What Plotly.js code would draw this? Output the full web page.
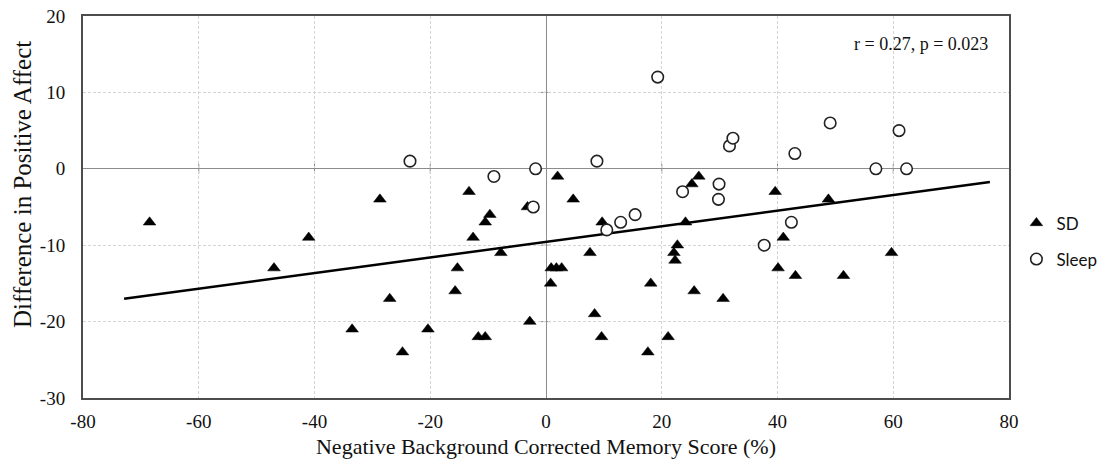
<!DOCTYPE html>
<html>
<head>
<meta charset="utf-8">
<script src="https://cdn.plot.ly/plotly-3.0.1.min.js"></script>
<style>
  html, body { margin: 0; padding: 0; background: #ffffff; }
  #chart { width: 1114px; height: 463px; }
</style>
</head>
<body>
<div id="chart"></div>
<script>
// Sleep-deprived group (SD)
const sdMemory = [-68.5, -47, -41, -33.5, -28.7, -27, -24.8, -20.4, -15.7, -15.3,
  -13.3, -12.6, -11.7, -10.5, -10.5, -9.7, -7.8, -3.2, -2.8, 0.8,
  0.9, 1.8, 2.7, 2, 4.7, 7.6, 8.4, 9.6, 9.7, 17.6,
  18.1, 21.1, 22.1, 22.3, 22.7, 24.1, 25.2, 25.6, 26.4, 30.6,
  39.6, 40.1, 41, 43.1, 48.8, 51.4, 59.7];
const sdAffect = [-7, -13, -9, -21, -4, -17, -24, -21, -16, -13,
  -3, -9, -22, -22, -7, -6, -11, -5, -20, -15,
  -13, -13, -13, -1, -4, -11, -19, -22, -7, -24,
  -15, -22, -11, -12, -10, -7, -2, -16, -1, -17,
  -3, -13, -9, -14, -4, -14, -11];

// Sleep group
const sleepMemory = [-23.5, -9, -2.2, -1.8, 8.8, 10.5, 12.9, 15.4, 19.3, 23.6,
  29.8, 29.9, 31.7, 32.3, 37.7, 42.4, 43, 49.1, 57, 61, 62.3];
const sleepAffect = [1, -1, -5, 0, 1, -8, -7, -6, 12, -3,
  -4, -2, 3, 4, -10, -7, 2, 6, 0, 5, 0];

// Linear trend line endpoints (all participants)
const trendMemory = [-72.9, 76.7];
const trendAffect = [-17.0, -1.74];

// Axis ticks
const xTicks = [-80, -60, -40, -20, 0, 20, 40, 60, 80];
const yTicks = [-30, -20, -10, 0, 10, 20];

const statsLabel = 'r = 0.27, p = 0.023';
const xTitle = 'Negative Background Corrected Memory Score (%)';
const yTitle = 'Difference in Positive Affect';

const serif = 'Liberation Serif, Times New Roman, serif';

const traces = [
  {
    x: trendMemory, y: trendAffect, type: 'scatter', mode: 'lines',
    line: { color: '#000000', width: 2.5 },
    showlegend: false, hoverinfo: 'skip'
  },
  {
    x: sdMemory, y: sdAffect, type: 'scatter', mode: 'markers', name: 'SD',
    legendgroup: 'sd',
    marker: { symbol: 'triangle-up', size: 11, color: '#000000',
              line: { color: '#000000', width: 0.5 } }
  },
  {
    x: sleepMemory, y: sleepAffect, type: 'scatter', mode: 'markers', name: 'Sleep',
    legendgroup: 'sleep',
    marker: { symbol: 'circle', size: 11.5, color: '#ffffff',
              line: { color: '#222222', width: 1.6 } }
  }
];

// Small cross ticks along the zero lines at each grid value
const shapes = [];
xTicks.filter(v => v !== 0 && v > xTicks[0] && v < xTicks[xTicks.length - 1]).forEach(v => {
  shapes.push({
    type: 'line', layer: 'below', xref: 'x', yref: 'y',
    x0: v, x1: v, ysizemode: 'pixel', yanchor: 0, y0: -5, y1: 5,
    line: { color: '#8c8c8c', width: 1 }
  });
});
yTicks.filter(v => v !== 0 && v > yTicks[0] && v < yTicks[yTicks.length - 1]).forEach(v => {
  shapes.push({
    type: 'line', layer: 'below', xref: 'x', yref: 'y',
    y0: v, y1: v, xsizemode: 'pixel', xanchor: 0, x0: -5, x1: 5,
    line: { color: '#8c8c8c', width: 1 }
  });
});

const layout = {
  width: 1114, height: 463,
  margin: { l: 83, r: 105, t: 16, b: 65, pad: 0 },
  paper_bgcolor: '#ffffff', plot_bgcolor: '#ffffff',
  showlegend: true,
  xaxis: {
    range: [-80, 80], tickvals: xTicks, ticktext: xTicks.map(String),
    showgrid: true, gridcolor: '#d4d4d4', griddash: '3px,2px', gridwidth: 1,
    zeroline: true, zerolinecolor: '#8c8c8c', zerolinewidth: 1,
    showline: true, mirror: true, linecolor: '#4d4d4d', linewidth: 2,
    ticks: '', ticklabelstandoff: 5,
    tickfont: { family: serif, size: 19, color: '#111111' },
    title: { text: xTitle,
             font: { family: serif, size: 22, color: '#111111' }, standoff: 8 }
  },
  yaxis: {
    range: [-30, 20], tickvals: yTicks, ticktext: yTicks.map(String),
    showgrid: true, gridcolor: '#d4d4d4', griddash: '3px,2px', gridwidth: 1,
    zeroline: true, zerolinecolor: '#8c8c8c', zerolinewidth: 1,
    showline: true, mirror: true, linecolor: '#4d4d4d', linewidth: 2,
    ticks: '', ticklabelstandoff: 12,
    tickfont: { family: serif, size: 19, color: '#111111' }
  },
  legend: {
    x: 1.008, xanchor: 'left', y: 0.41, yanchor: 'middle',
    font: { family: 'Lato, Open Sans, sans-serif', size: 17, color: '#111111' },
    tracegroupgap: 11, itemwidth: 30, bgcolor: 'rgba(0,0,0,0)'
  },
  shapes: shapes,
  annotations: [
    {
      text: statsLabel, xref: 'paper', yref: 'paper', x: 0.98, y: 0.927,
      xanchor: 'right', yanchor: 'middle', showarrow: false,
      font: { family: serif, size: 18, color: '#111111' }
    },
    {
      text: yTitle, xref: 'paper', yref: 'paper', x: -0.066, y: 0.56,
      xanchor: 'center', yanchor: 'middle', textangle: -90, showarrow: false,
      font: { family: serif, size: 25, color: '#111111' }
    }
  ]
};

Plotly.newPlot('chart', traces, layout, { displayModeBar: false, staticPlot: true });
</script>
</body>
</html>
